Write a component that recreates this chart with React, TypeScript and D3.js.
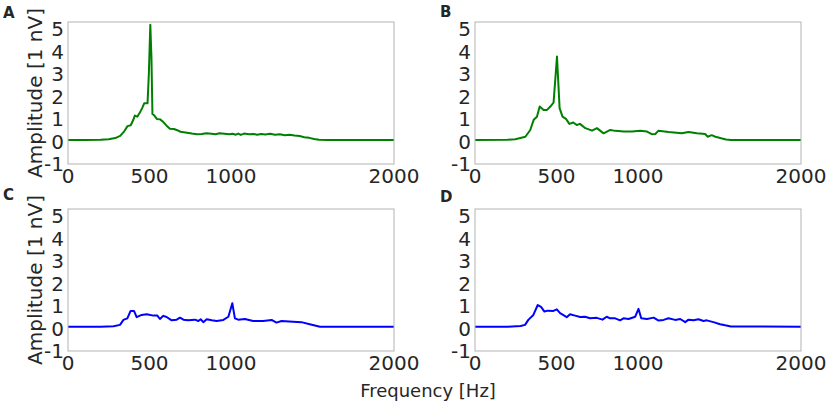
import React from 'react';
import * as d3 from 'd3';

// spectra (frequency in Hz, amplitude in nV)
const freqA = [0, 100, 200, 250, 290, 320, 345, 365, 385, 400, 410, 425, 440, 455, 468, 488, 496, 505, 512, 518, 530, 545, 565, 585, 605, 625, 650, 670, 690, 720, 760, 790, 820, 850, 880, 905, 930, 960, 990, 1010, 1030, 1045, 1060, 1080, 1110, 1140, 1160, 1185, 1210, 1240, 1270, 1300, 1330, 1360, 1390, 1420, 1450, 1480, 1510, 1540, 1600, 2000];
const ampA = [0.07, 0.07, 0.08, 0.1, 0.15, 0.25, 0.45, 0.68, 0.72, 0.95, 1.15, 1.1, 1.27, 1.48, 1.7, 1.7, 3.0, 5.18, 3.7, 1.22, 1.15, 1.0, 0.98, 0.86, 0.7, 0.56, 0.55, 0.5, 0.43, 0.4, 0.35, 0.32, 0.33, 0.36, 0.34, 0.32, 0.36, 0.34, 0.32, 0.34, 0.3, 0.35, 0.29, 0.35, 0.32, 0.33, 0.3, 0.33, 0.31, 0.34, 0.3, 0.32, 0.28, 0.3, 0.26, 0.24, 0.19, 0.16, 0.11, 0.08, 0.07, 0.07];

const freqB = [0, 200, 247, 309, 339, 360, 380, 397, 421, 442, 462, 482, 503, 519, 537, 558, 579, 603, 624, 644, 677, 718, 748, 789, 830, 861, 912, 963, 1014, 1055, 1085, 1106, 1126, 1188, 1269, 1310, 1361, 1412, 1428, 1452, 1475, 1510, 1540, 1570, 2000];
const ampB = [0.07, 0.08, 0.1, 0.21, 0.51, 0.96, 1.1, 1.55, 1.4, 1.4, 1.55, 1.72, 3.77, 1.48, 1.1, 1.0, 0.78, 0.84, 0.73, 0.78, 0.59, 0.48, 0.59, 0.36, 0.51, 0.47, 0.44, 0.44, 0.48, 0.44, 0.32, 0.33, 0.48, 0.42, 0.36, 0.42, 0.36, 0.33, 0.21, 0.28, 0.21, 0.14, 0.09, 0.07, 0.07];

const freqC = [0, 200, 280, 319, 340, 364, 384, 405, 421, 452, 483, 524, 548, 564, 585, 605, 636, 667, 687, 708, 738, 779, 800, 814, 830, 851, 882, 912, 953, 984, 1008, 1024, 1044, 1085, 1136, 1197, 1249, 1279, 1310, 1381, 1432, 1483, 1546, 2000];
const ampC = [0.08, 0.08, 0.1, 0.16, 0.38, 0.45, 0.78, 0.78, 0.5, 0.6, 0.63, 0.57, 0.57, 0.42, 0.56, 0.51, 0.36, 0.39, 0.48, 0.39, 0.36, 0.39, 0.33, 0.41, 0.28, 0.41, 0.36, 0.33, 0.38, 0.52, 1.12, 0.45, 0.39, 0.42, 0.33, 0.33, 0.38, 0.26, 0.33, 0.3, 0.28, 0.19, 0.08, 0.08];

const freqD = [0, 200, 280, 307, 327, 358, 385, 405, 426, 446, 481, 502, 522, 563, 583, 614, 645, 675, 706, 747, 782, 808, 829, 860, 890, 911, 942, 983, 1003, 1020, 1055, 1096, 1126, 1157, 1187, 1228, 1259, 1290, 1310, 1341, 1371, 1402, 1422, 1463, 1504, 1535, 1570, 2000];
const ampD = [0.08, 0.08, 0.11, 0.16, 0.38, 0.6, 1.04, 0.96, 0.75, 0.79, 0.78, 0.85, 0.68, 0.5, 0.63, 0.57, 0.51, 0.52, 0.45, 0.47, 0.39, 0.52, 0.45, 0.45, 0.36, 0.45, 0.42, 0.52, 0.87, 0.45, 0.42, 0.48, 0.35, 0.38, 0.45, 0.38, 0.42, 0.28, 0.39, 0.36, 0.41, 0.33, 0.36, 0.28, 0.19, 0.14, 0.09, 0.08];

const xTicks = [0, 500, 1000, 2000];
const yTicks = [-1, 0, 1, 2, 3, 4, 5];

const font = 'DejaVu Sans';
const textColor = '#262626';
const W = 326;
const H = 142;

const Panel = ({ left, top, freq, amp, color, letter, letterX, letterY, showYLabel }) => {
  const x = d3.scaleLinear().domain([0, 2000]).range([0, W]);
  const y = d3.scaleLinear().domain([-1, 5.3]).range([H, 0]);
  const line = d3.line<number>().x((d, i) => x(freq[i])).y(d => y(d));

  return (
    <g>
      <text x={letterX} y={letterY} fontFamily={font} fontWeight="bold" fontSize={15} fill={textColor}>{letter}</text>
      {showYLabel && (
        <text transform={`translate(42, ${top + H / 2}) rotate(-90)`} textAnchor="middle"
          fontFamily={font} fontSize={20} fill={textColor}>Amplitude [1 nV]</text>
      )}
      <g transform={`translate(${left}, ${top})`}>
        <path d={line(amp) || ''} fill="none" stroke={color} strokeWidth={2} strokeLinejoin="round" />
        <rect x={0} y={0} width={W} height={H} fill="none" stroke="#b3b3b3" strokeWidth={1} />
        {yTicks.map(t => (
          <text key={'y' + t} x={-4} y={y(t)} dy="0.36em" textAnchor="end"
            fontFamily={font} fontSize={20} fill={textColor}>{t}</text>
        ))}
        {xTicks.map(t => (
          <text key={'x' + t} x={x(t)} y={H + 19} textAnchor="middle"
            fontFamily={font} fontSize={20} fill={textColor}>{t}</text>
        ))}
      </g>
    </g>
  );
};

export default function App() {
  return (
    <svg width={828} height={406} style={{ position: 'absolute', left: 0, top: 0, background: '#fff' }}>
      <Panel left={68} top={22} freq={freqA} amp={ampA} color="#008000" letter="A" letterX={3} letterY={18} showYLabel />
      <Panel left={475} top={22} freq={freqB} amp={ampB} color="#008000" letter="B" letterX={440} letterY={17} showYLabel={false} />
      <Panel left={68} top={209} freq={freqC} amp={ampC} color="#0000ff" letter="C" letterX={3} letterY={200} showYLabel />
      <Panel left={475} top={209} freq={freqD} amp={ampD} color="#0000ff" letter="D" letterX={440} letterY={202} showYLabel={false} />
      <text x={428} y={397} textAnchor="middle" fontFamily={font} fontSize={18} fill={textColor}>Frequency [Hz]</text>
    </svg>
  );
}
